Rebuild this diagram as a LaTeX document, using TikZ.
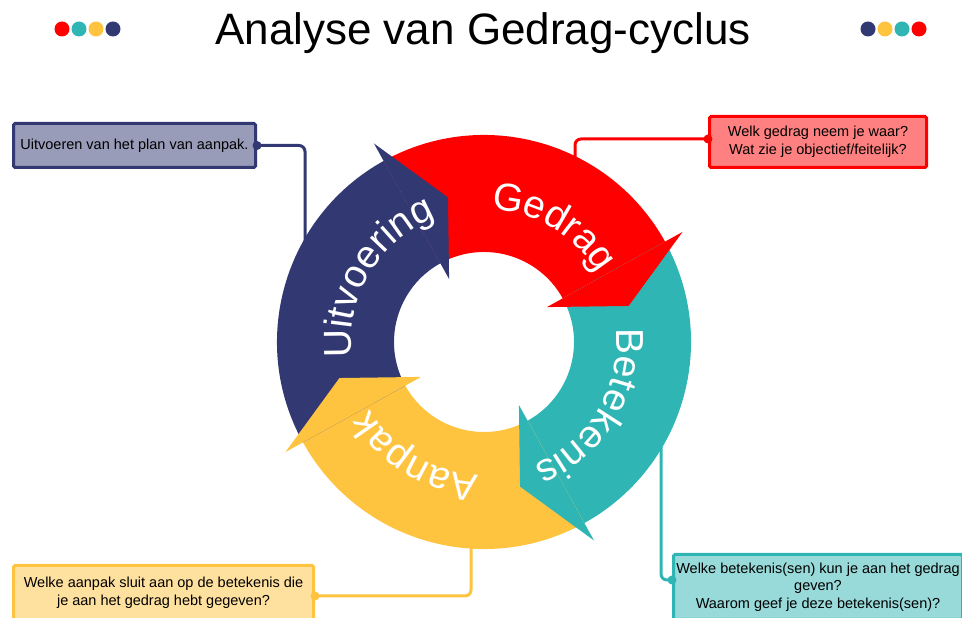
\documentclass[tikz,border=0pt]{standalone}
\usepackage{fontspec}
\setmainfont{Liberation Sans}
\usetikzlibrary{decorations.text}
\definecolor{cycRed}{HTML}{FF0000}
\definecolor{cycTeal}{HTML}{2FB6B4}
\definecolor{cycGold}{HTML}{FFC43F}
\definecolor{cycNavy}{HTML}{313872}
\newcommand\arcfont{\fontsize{39}{39}\selectfont}
\newcommand\boxfont{\fontsize{14.5}{17.5}\selectfont}

\begin{document}
\begin{tikzpicture}[x=1pt,y=1pt,
    infobox/.style={draw=#1,line width=3pt,fill=#1!50!white,rectangle,rounded corners=1.5pt,align=center,font=\boxfont,inner sep=2pt},
    link/.style={draw=#1,line width=3pt,rounded corners=6pt},
    cyclabel/.style={decorate,decoration={text along path,text={|\arcfont|#1},text align=center,text color=white}}]
        \useasboundingbox (0,0) rectangle (962,618);
        %% Title
        \node[anchor=base,font=\fontsize{44}{44}\selectfont] (title) at (483,573) {Analyse van Gedrag-cyclus};
        %% Dots
        \fill[cycRed] (62,589) circle[radius=7.5];
        \fill[cycTeal] (79,589) circle[radius=7.5];
        \fill[cycGold] (96,589) circle[radius=7.5];
        \fill[cycNavy] (113,589) circle[radius=7.5];
        \fill[cycNavy] (868,589) circle[radius=7.5];
        \fill[cycGold] (885,589) circle[radius=7.5];
        \fill[cycTeal] (902,589) circle[radius=7.5];
        \fill[cycRed] (919,589) circle[radius=7.5];
        %% Boxes
        \node[infobox=cycNavy,minimum width=242pt,minimum height=44pt] (uitvbox) at (134.5,472.5) {Uitvoeren van het plan van aanpak.};
        \node[infobox=cycRed,minimum width=217pt,minimum height=51pt] (gedragbox) at (818,476) {Welk gedrag neem je waar?\\Wat zie je objectief/feitelijk?};
        \node[infobox=cycGold,minimum width=300pt,minimum height=55pt] (aanpakbox) at (163.5,25) {Welke aanpak sluit aan op de betekenis die\\je aan het gedrag hebt gegeven?};
        \node[infobox=cycTeal,minimum width=289pt,minimum height=65pt] (betekbox) at (818,31) {Welke betekenis(sen) kun je aan het gedrag\\geven?\\Waarom geef je deze betekenis(sen)?};
        %% Connectors
        \coordinate (hub) at (484,276);
        \coordinate (uitvend) at (305,368);
        \coordinate (gedragend) at (575,443);
        \coordinate (aanpakend) at (471,88);
        \coordinate (betekend) at (661,198);
        \draw[link=cycNavy] (uitvbox.east) -| (uitvend);
        \draw[link=cycRed] ([yshift=3pt]gedragbox.west) -| (gedragend);
        \draw[link=cycGold] ([yshift=-3pt]aanpakbox.east) -| (aanpakend);
        \draw[link=cycTeal] ([yshift=7pt]betekbox.west) -| (betekend);
        \fill[cycNavy] (uitvbox.east) circle[radius=4.5];
        \fill[cycRed] ([yshift=3pt]gedragbox.west) circle[radius=4.5];
        \fill[cycGold] ([yshift=-3pt]aanpakbox.east) circle[radius=4.5];
        \fill[cycTeal] ([yshift=7pt]betekbox.west) circle[radius=4.5];
        \begin{scope}[shift={(hub)}]
        %% Ring
        \fill[cycRed] (119:207) arc[start angle=119,end angle=29,radius=207] -- (29:90) arc[start angle=29,end angle=119,radius=90] -- cycle;
        \fill[cycTeal] (29:207) arc[start angle=29,end angle=-61,radius=207] -- (-61:90) arc[start angle=-61,end angle=29,radius=90] -- cycle;
        \fill[cycGold] (299:207) arc[start angle=299,end angle=209,radius=207] -- (209:90) arc[start angle=209,end angle=299,radius=90] -- cycle;
        \fill[cycNavy] (209:207) arc[start angle=209,end angle=119,radius=207] -- (119:90) arc[start angle=119,end angle=209,radius=90] -- cycle;
        %% Heads
        \fill[cycRed] (29:227) -- (14:149) -- (29:72) -- cycle;
        \fill[cycTeal] (-61:227) -- (-76:149) -- (-61:72) -- cycle;
        \fill[cycGold] (209:227) -- (194:149) -- (209:72) -- cycle;
        \fill[cycNavy] (119:227) -- (104:149) -- (119:72) -- cycle;
        %% Labels
        \path[cyclabel=Gedrag] (104:133) arc[start angle=104,end angle=14,radius=133];
        \path[cyclabel=Betekenis] (14:133) arc[start angle=14,end angle=-76,radius=133];
        \path[cyclabel=Aanpak] (284:133) arc[start angle=284,end angle=194,radius=133];
        \path[cyclabel=Uitvoering] (194:133) arc[start angle=194,end angle=104,radius=133];
        \end{scope}
    \end{tikzpicture}
\end{document}
